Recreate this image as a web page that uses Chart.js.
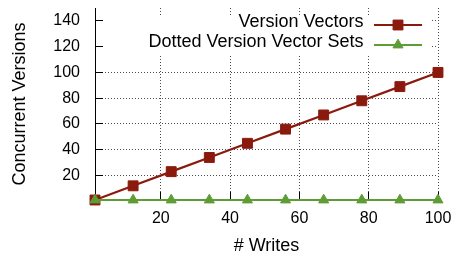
<!DOCTYPE html>
<html><head><meta charset="utf-8">
<script src="https://cdn.jsdelivr.net/npm/chart.js@4/dist/chart.umd.min.js"></script>
<style>html,body{margin:0;padding:0;background:#fff}#wrap{width:454px;height:257px;position:relative}</style>
</head><body><div id="wrap"><canvas id="c"></canvas></div>
<script>
const writes = [1, 12, 23, 34, 45, 56, 67, 78, 89, 100];
const versionVectors = [1, 12, 23, 34, 45, 56, 67, 78, 89, 100];
const dottedVersionVectorSets = [1, 1, 1, 1, 1, 1, 1, 1, 1, 1];
const xTicks = [20, 40, 60, 80, 100];
const yTicks = [20, 40, 60, 80, 100, 120, 140];
const seriesLabels = ['Version Vectors', 'Dotted Version Vector Sets'];
const xTitle = '# Writes';
const yTitle = 'Concurrent Versions';

const FONT = '"Liberation Sans", Arial, Helvetica, sans-serif';
const RED = '#8b1a0e', GREEN = '#5e9c36';

function drawMarker(ctx, style, r, x, y) {
  if (Chart.helpers && Chart.helpers.drawPoint) {
    Chart.helpers.drawPoint(ctx, {pointStyle: style, radius: r, borderWidth: 1, rotation: 0}, x, y);
    return;
  }
  ctx.beginPath();
  if (style === 'rect') { const s = r * Math.SQRT1_2; ctx.rect(x - s, y - s, 2 * s, 2 * s); }
  else { ctx.moveTo(x, y - r); ctx.lineTo(x + r * 0.866, y + r / 2); ctx.lineTo(x - r * 0.866, y + r / 2); ctx.closePath(); }
  ctx.fill(); ctx.stroke();
}

const keyPlugin = {
  id: 'gnuKey',
  beforeDatasetsDraw(chart) {
    const {ctx, chartArea: a, scales: {x, y}} = chart;
    ctx.save();
    ctx.fillStyle = '#fff';
    ctx.fillRect(a.left + 1, 15, a.right - 7 - (a.left + 1), 39);
    ctx.strokeStyle = '#000'; ctx.lineWidth = 1; ctx.setLineDash([]);
    ctx.beginPath();
    yTicks.forEach(v => { const p = Math.round(y.getPixelForValue(v) + 0.5) - 0.5; ctx.moveTo(a.left, p); ctx.lineTo(a.left + 8, p); });
    xTicks.forEach(v => { const p = Math.round(x.getPixelForValue(v) + 0.5) - 0.5; ctx.moveTo(p, a.bottom); ctx.lineTo(p, a.bottom - 8); });
    ctx.moveTo(a.left + 0.5, a.top); ctx.lineTo(a.left + 0.5, a.bottom);
    ctx.moveTo(a.left, a.bottom + 0.5); ctx.lineTo(a.right, a.bottom + 0.5);
    ctx.stroke();
    ctx.restore();
  },
  afterDatasetsDraw(chart) {
    const {ctx, chartArea: a} = chart;
    ctx.save();
    ctx.font = '18px ' + FONT;
    ctx.textAlign = 'right'; ctx.textBaseline = 'alphabetic';
    chart.data.datasets.forEach((d, i) => {
      const cy = 25 + i * 20;
      ctx.fillStyle = '#000';
      ctx.fillText(d.label, a.right - 74.5, cy + 2);
      ctx.strokeStyle = d.borderColor; ctx.lineWidth = 2;
      ctx.beginPath(); ctx.moveTo(a.right - 64, cy); ctx.lineTo(a.right - 16, cy); ctx.stroke();
      ctx.fillStyle = d.pointBackgroundColor; ctx.strokeStyle = d.pointBorderColor; ctx.lineWidth = 1;
      drawMarker(ctx, d.pointStyle, d.pointRadius, a.right - 40, cy);
    });
    ctx.restore();
  }
};

const gridStyle = {color: 'rgba(0,0,0,0.7)', lineWidth: 1, drawTicks: false};
const borderStyle = {display: true, color: 'rgba(0,0,0,0)', width: 1, dash: [1, 2]};

new Chart(document.getElementById('c'), {
  type: 'line',
  data: {
    datasets: [
      {
        label: seriesLabels[0],
        data: writes.map((w, i) => ({x: w, y: versionVectors[i]})),
        borderColor: RED, backgroundColor: RED,
        pointBackgroundColor: RED, pointBorderColor: RED,
        pointStyle: 'rect', pointRadius: 7, pointBorderWidth: 1,
        borderWidth: 2.2, tension: 0, order: 1, clip: false
      },
      {
        label: seriesLabels[1],
        data: writes.map((w, i) => ({x: w, y: dottedVersionVectorSets[i]})),
        borderColor: GREEN, backgroundColor: GREEN,
        pointBackgroundColor: GREEN, pointBorderColor: GREEN,
        pointStyle: 'triangle', pointRadius: 5.8, pointBorderWidth: 1,
        borderWidth: 2.2, tension: 0, order: 0, clip: false
      }
    ]
  },
  options: {
    responsive: true, maintainAspectRatio: false, animation: false,
    devicePixelRatio: 1,
    layout: {padding: {top: 7, right: 16, left: 0, bottom: 0}},
    plugins: {legend: {display: false}, tooltip: {enabled: false}},
    scales: {
      x: {
        type: 'linear', min: 1, max: 100,
        afterBuildTicks: s => { s.ticks = xTicks.map(v => ({value: v})); },
        afterFit: s => { s.height = 57; s.paddingLeft = 0; s.paddingRight = 0; s.paddingTop = 0; s.paddingBottom = 0; },
        grid: gridStyle,
        border: borderStyle,
        ticks: {color: '#000', font: {family: FONT, size: 16}, padding: 9, maxRotation: 0},
        title: {display: true, text: xTitle, color: '#000', font: {family: FONT, size: 18}, padding: {top: 0, bottom: 0}}
      },
      y: {
        type: 'linear', min: 1, max: 150,
        afterBuildTicks: s => { s.ticks = yTicks.map(v => ({value: v})); },
        afterFit: s => { s.width = 95; s.paddingLeft = 0; s.paddingRight = 0; s.paddingTop = 0; s.paddingBottom = 0; },
        grid: gridStyle,
        border: borderStyle,
        ticks: {color: '#000', font: {family: FONT, size: 16}, padding: 15},
        title: {display: true, text: yTitle, color: '#000', font: {family: FONT, size: 18}, padding: {top: 9, bottom: 0}}
      }
    }
  },
  plugins: [keyPlugin]
});
</script>
</body></html>
